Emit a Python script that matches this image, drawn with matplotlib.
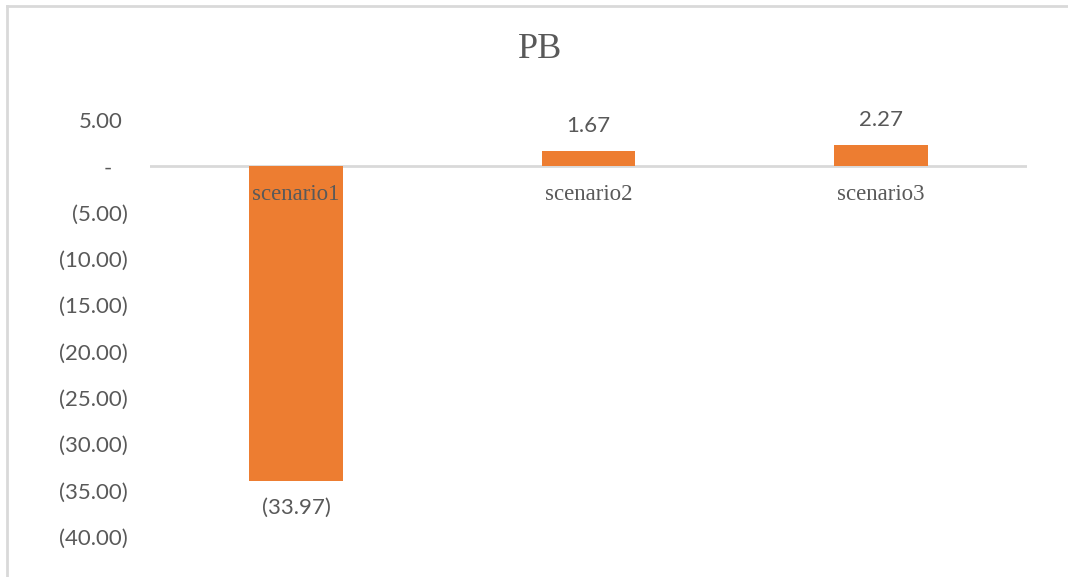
import matplotlib
matplotlib.use("Agg")
import matplotlib.pyplot as plt
from matplotlib.transforms import ScaledTranslation
from matplotlib.lines import Line2D

categories = ["scenario1", "scenario2", "scenario3"]
values = [-33.97, 1.67, 2.27]
yticks = [5, 0, -5, -10, -15, -20, -25, -30, -35, -40]
ytick_labels = ["5.00", "-", "(5.00)", "(10.00)", "(15.00)", "(20.00)",
                "(25.00)", "(30.00)", "(35.00)", "(40.00)"]
data_labels = ["(33.97)", "1.67", "2.27"]
title = "PB"

W, H = 1068, 577
DPI = 100
fig = plt.figure(figsize=(W / DPI, H / DPI), dpi=DPI)
fig.patch.set_facecolor("white")

# chart border (light gray, top and left visible)
fig.add_artist(Line2D([7 / W, 7 / W], [0, 1 - 6 / H], transform=fig.transFigure,
                      color="#D9D9D9", lw=2))
fig.add_artist(Line2D([7 / W, 1], [1 - 6 / H, 1 - 6 / H], transform=fig.transFigure,
                      color="#D9D9D9", lw=2))

left, right = 150, 1027
top, bottom = 120, 537
ax = fig.add_axes([left / W, 1 - bottom / H, (right - left) / W, (bottom - top) / H])
ax.set_xlim(-0.5, 2.5)
ax.set_ylim(-40, 5)

orange = "#ED7D31"
gray = "#595959"
sans = ["Lato", "DejaVu Sans"]
serif = ["Liberation Serif", "DejaVu Serif"]

x = list(range(len(categories)))
ax.bar(x, values, width=0.32, color=orange, zorder=2)
ax.axhline(0, color="#D9D9D9", lw=2, zorder=1)

for s in ax.spines.values():
    s.set_visible(False)

ax.set_yticks(yticks)
ax.set_yticklabels(ytick_labels, fontfamily=sans, fontsize=16, color=gray)
ax.tick_params(axis="y", length=0, pad=16)
ax.tick_params(axis="x", length=0, labelbottom=False)

for lab, txt in zip(ax.get_yticklabels(), ytick_labels):
    if txt == "-":
        dx = -16
    elif not txt.startswith("("):
        dx = -5
    else:
        dx = 0
    if dx:
        lab.set_transform(lab.get_transform() + ScaledTranslation(dx / DPI, 0, fig.dpi_scale_trans))

# category labels just below zero line
for xi, c in zip(x, categories):
    ax.annotate(c, (xi, 0), xytext=(0, -28), textcoords="offset pixels",
                ha="center", va="center", fontfamily=serif, fontsize=16.5,
                color=gray, zorder=3)

# data labels
for xi, v, t in zip(x, values, data_labels):
    off = 25 if v >= 0 else -27
    ax.annotate(t, (xi, v), xytext=(0, off), textcoords="offset pixels",
                ha="center", va="center", fontfamily=sans, fontsize=16, color=gray)

fig.text(540 / W, 1 - 50 / H, title, ha="center", va="center",
         fontfamily=serif, fontsize=26, color=gray)

fig.savefig("out.png", dpi=DPI)
